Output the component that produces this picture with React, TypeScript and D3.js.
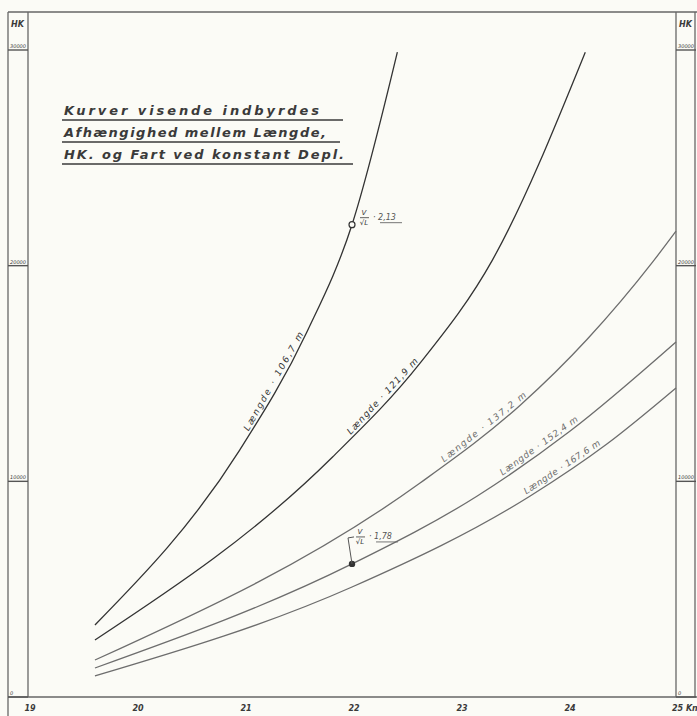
import React from "react";
import * as d3 from "d3";

// fart i knob og HK for hver længde, aflæst fra tegningen
const speed1 = [19.62, 20.96, 21.58, 22, 22.42];
const hk1 = [3340, 11450, 16900, 21900, 29900];

const speed2 = [19.62, 21.82, 22.63, 23.3, 24.16];
const hk2 = [2640, 11130, 15480, 20260, 29900];

const speed3 = [19.62, 22.63, 23.56, 24.18, 24.79, 25];
const hk3 = [1715, 9920, 13540, 16600, 20210, 21600];

const speed4 = [19.62, 22, 23.16, 24.02, 25];
const hk4 = [1345, 6170, 9320, 12330, 16460];

const speed5 = [19.62, 22, 23.65, 24.36, 25];
const hk5 = [975, 5100, 9320, 11730, 14330];

const curveLabels = [
  "Længde · 106,7 m",
  "Længde · 121,9 m",
  "Længde · 137,2 m",
  "Længde · 152,4 m",
  "Længde · 167,6 m",
];
const labelSpeeds = [21.33, 22.33, 23.26, 23.77, 23.98];
const labelLengths = [112, 100, 106, 94, 90];

const xTicks = [19, 20, 21, 22, 23, 24, 25];
const xTickLabels = ["19", "20", "21", "22", "23", "24", "25 Kn"];
const yTicks = [0, 10000, 20000, 30000];
const yTickLabels = ["0", "10000", "20000", "30000"];

const titleLines = [
  "Kurver visende indbyrdes",
  "Afhængighed mellem Længde,",
  "HK. og Fart ved konstant Depl.",
];

const marks = [
  { curve: 0, speed: 22, ratio: "2,13", filled: false },
  { curve: 3, speed: 22, ratio: "1,78", filled: true },
];

const W = 697;
const H = 716;
const ink = "#3a3a3a";
const font = "'DejaVu Sans', sans-serif";

const App = () => {
  const x = d3.scaleLinear().domain([19, 25]).range([28, 676]);
  const y = d3.scaleLinear().domain([0, 30000]).range([697, 50]);

  const series = [
    [speed1, hk1],
    [speed2, hk2],
    [speed3, hk3],
    [speed4, hk4],
    [speed5, hk5],
  ].map(([s, h]) => s.map((v, i) => [v, h[i]] as [number, number]));

  const line = d3
    .line<[number, number]>()
    .x((d) => x(d[0]))
    .y((d) => y(d[1]))
    .curve(d3.curveMonotoneX);

  // samplede punkter langs den tegnede kurve (til tekster og mærker)
  const sampled = series.map((pts) => {
    const el = document.createElementNS("http://www.w3.org/2000/svg", "path");
    el.setAttribute("d", line(pts) || "");
    const len = el.getTotalLength();
    const out: { x: number; y: number }[] = [];
    for (let l = 0; l <= len; l += 0.5) {
      const p = el.getPointAtLength(l);
      out.push({ x: p.x, y: p.y });
    }
    return out;
  });

  const pointAt = (i: number, v: number) => {
    const px = x(v);
    const arr = sampled[i];
    let best = arr[0];
    for (const p of arr) if (Math.abs(p.x - px) < Math.abs(best.x - px)) best = p;
    return best;
  };

  const curveColor = (i: number) => (i < 2 ? "#333" : "#6d6d6d");

  return (
    <svg width={W} height={H} style={{ position: "absolute", left: 0, top: 0, background: "#fbfbf6" }}>
      <rect x={0} y={0} width={W} height={H} fill="#fbfbf6" />

      {/* ramme */}
      <g stroke="#666" strokeWidth={1.3} fill="none">
        <line x1={8} y1={12} x2={W} y2={12} />
        <line x1={8} y1={12} x2={8} y2={H} />
        <line x1={28} y1={12} x2={28} y2={697} />
        <line x1={676} y1={12} x2={676} y2={697} />
        <line x1={695} y1={12} x2={695} y2={697} />
        <line x1={8} y1={697} x2={W} y2={697} />
      </g>

      {/* HK-skala i begge sider */}
      {[8, 676].map((x0) => (
        <g key={x0}>
          <text x={x0 + 3} y={27} fontFamily={font} fontStyle="italic" fontWeight="bold" fontSize={8} fill={ink}>
            HK
          </text>
          {yTicks.map((t, i) => (
            <g key={t}>
              <line x1={x0} x2={x0 + 20} y1={y(t)} y2={y(t)} stroke="#555" strokeWidth={1.4} />
              <text
                x={x0 + 2}
                y={y(t) - 2}
                fontFamily={font}
                fontStyle="italic"
                fontSize={5}
                fill={ink}
                textLength={yTickLabels[i].length > 1 ? 16 : undefined}
                lengthAdjust="spacingAndGlyphs"
              >
                {yTickLabels[i]}
              </text>
            </g>
          ))}
        </g>
      ))}

      {/* fart-akse */}
      {xTicks.map((t, i) => (
        <text
          key={t}
          x={x(t) + (i === xTicks.length - 1 ? -4 : 2)}
          y={711}
          fontFamily={font}
          fontStyle="italic"
          fontWeight="bold"
          fontSize={8}
          fill={ink}
          textAnchor={i === xTicks.length - 1 ? "start" : "middle"}
        >
          {xTickLabels[i]}
        </text>
      ))}

      {/* titel */}
      {titleLines.map((t, i) => (
        <g key={t}>
          <text
            x={64}
            y={115 + i * 22}
            fontFamily={font}
            fontStyle="italic"
            fontWeight="bold"
            fontSize={13}
            fill={ink}
            textLength={[255, 262, 280][i]}
            lengthAdjust="spacing"
          >
            {t}
          </text>
          <line x1={62} x2={[343, 340, 353][i]} y1={120 + i * 22} y2={120 + i * 22} stroke={ink} strokeWidth={1.3} />
        </g>
      ))}

      {/* kurver */}
      {series.map((pts, i) => (
        <path key={i} d={line(pts) || ""} fill="none" stroke={curveColor(i)} strokeWidth={1.3} />
      ))}

      {/* kurvetekster */}
      {series.map((pts, i) => {
        const v = labelSpeeds[i];
        const p = pointAt(i, v);
        const a = pointAt(i, v - 0.06);
        const b = pointAt(i, v + 0.06);
        const ang = (Math.atan2(b.y - a.y, b.x - a.x) * 180) / Math.PI;
        return (
          <text
            key={i}
            transform={`translate(${p.x},${p.y}) rotate(${ang})`}
            y={-4}
            textAnchor="middle"
            fontFamily={font}
            fontStyle="italic"
            fontSize={9}
            fill={curveColor(i)}
            textLength={labelLengths[i]}
            lengthAdjust="spacing"
          >
            {curveLabels[i]}
          </text>
        );
      })}

      {/* mærker med V/√L */}
      {marks.map((m, i) => {
        const p = pointAt(m.curve, m.speed);
        const px = p.x;
        const py = p.y;
        const lx = m.filled ? px + 4 : px + 8;
        const ly = m.filled ? py - 27 : py - 7;
        return (
          <g key={i}>
            {m.filled ? (
              <>
                <circle cx={px} cy={py} r={3.2} fill="#333" />
                <polyline
                  points={`${px},${py} ${px - 4},${py - 26} ${px + 2},${py - 27}`}
                  fill="none"
                  stroke="#555"
                  strokeWidth={1}
                />
              </>
            ) : (
              <circle cx={px} cy={py} r={3} fill="#fbfbf6" stroke="#333" strokeWidth={1.2} />
            )}
            <text x={lx + 4} y={ly - 3} fontFamily={font} fontStyle="italic" fontSize={7} fill={ink} textAnchor="middle">
              V
            </text>
            <line x1={lx} x2={lx + 9} y1={ly} y2={ly} stroke={ink} strokeWidth={0.8} />
            <text x={lx + 4} y={ly + 7} fontFamily={font} fontStyle="italic" fontSize={7} fill={ink} textAnchor="middle">
              √L
            </text>
            <text x={lx + 13} y={ly + 2} fontFamily={font} fontStyle="italic" fontSize={8} fill="#555">
              · {m.ratio}
            </text>
            <line x1={lx + 20} x2={lx + 42} y1={ly + 5} y2={ly + 5} stroke="#666" strokeWidth={0.9} />
          </g>
        );
      })}
    </svg>
  );
};

export default App;
